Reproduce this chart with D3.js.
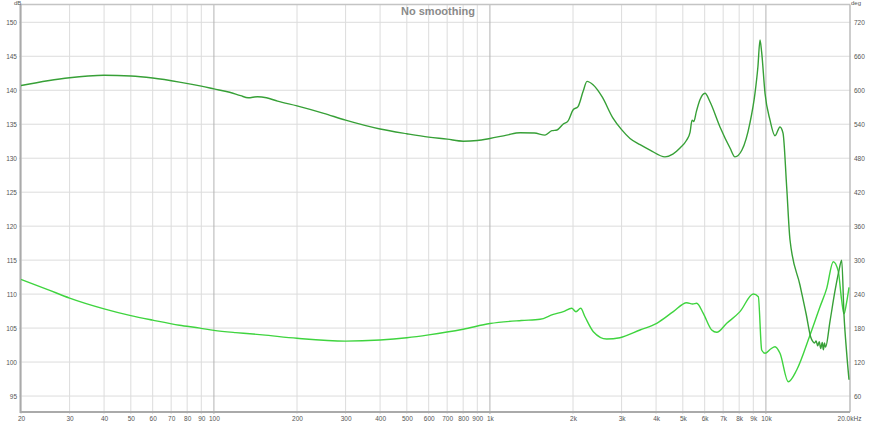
<!DOCTYPE html>
<html><head><meta charset="utf-8">
<script src="https://cdn.jsdelivr.net/npm/d3@7"></script>
<style>
html,body{margin:0;padding:0;background:#fff;}
svg{display:block;}
</style></head>
<body>
<svg id="chart" width="877" height="423"></svg>
<script>
// ---- data ----
const title = "No smoothing";
const xTickValues = [20,30,40,50,60,70,80,90,100,200,300,400,500,600,700,800,900,1000,2000,3000,4000,5000,6000,7000,8000,9000,10000,20000];
const xTickLabels = ["20","30","40","50","60","70","80","90","100","200","300","400","500","600","700","800","900","1k","2k","3k","4k","5k","6k","7k","8k","9k","10k","20.0kHz"];
const yLeftTicks = [95,100,105,110,115,120,125,130,135,140,145,150];
const yRightTicks = [60,120,180,240,300,360,420,480,540,600,660,720];

const splFreq = [20,25,30,35,40,50,60,75,90,100,114,125,133,144,155,170,200,250,300,400,500,600,700,800,900,1000,1150,1286,1450,1584,1678,1750,1840,1920,2000,2086,2175,2248,2364,2548,2792,3000,3218,3500,3802,4308,4600,4884,5150,5310,5400,5480,5600,5768,6016,6270,6818,7412,7727,8188,8754,9128,9356,9518,9650,9926,10348,10788,11246,11534,11890,12224,13290,14000,14527,14800,15000,15200,15400,15600,15800,16000,16150,16300,16450,17068,17800,18400,18818,19186,19600,20000];
const splDb   = [140.7,141.4,141.85,142.1,142.2,142.1,141.8,141.2,140.6,140.2,139.7,139.2,138.9,139.05,138.9,138.4,137.7,136.6,135.6,134.3,133.6,133.1,132.8,132.5,132.6,132.9,133.4,133.75,133.7,133.4,134.05,134.15,135.0,135.5,137.1,137.6,139.8,141.3,140.8,139.05,135.9,134.2,132.9,132.0,131.2,130.2,130.6,131.5,132.6,133.8,135.6,135.4,136.9,138.6,139.55,138.3,134.6,131.5,130.2,131.2,135.2,139.55,143.5,147.4,145.6,139.55,135.6,133.3,134.6,133.7,125.8,118.0,111.3,107.0,103.7,103.0,102.8,103.1,102.4,103.0,102.0,102.9,101.8,102.8,102.2,106.0,110.5,113.5,115.0,106.9,101.5,97.4];

const phaseFreq = [20,25,30,40,50,60,75,89,100,120,135,150,200,300,400,500,600,800,1000,1300,1519,1697,1845,1979,2050,2132,2210,2370,2649,2958,3498,4022,4618,5164,5431,5614,5930,6362,6634,7212,8054,9002,9386,9654,9926,10400,10788,11246,12052,12928,14448,15704,16608,17540,18292,18800,19186,19600,20000];
const phaseDeg  = [266,248,233,214,202,194,185,180,176,172,170,168,162,157,159,163,168,178,188,193.4,195.5,204.3,208.9,214.9,208.9,214.9,200,173.6,160.7,163,176.6,188.5,209,224.8,222.5,223.8,206,176.6,172.5,188.5,209,240.2,235.4,141.3,135.5,143,147.1,135.5,85.3,106,167.8,217.7,250.2,297.2,280,230,205,225,252];

// ---- chart ----
const svg = d3.select("#chart");
const L = 21, R = 849, T = 4.5, B = 412;
const x = d3.scaleLog().domain([20, 20000]).range([L, R]);
const yL = d3.scaleLinear().domain([92.65, 152.62]).range([B, T]);
const yR = d3.scaleLinear().domain([31.8, 751.4]).range([B, T]);

const font = "Liberation Sans, Arial, sans-serif";

// horizontal grid
svg.append("g").selectAll("line").data(yLeftTicks).join("line")
  .attr("x1", L - 2).attr("x2", R + 2)
  .attr("y1", d => yL(d)).attr("y2", d => yL(d))
  .attr("stroke", "#dcdcdc").attr("stroke-width", 1);

// vertical grid
const gridX = xTickValues.filter(v => v < 20000);
svg.append("g").selectAll("line").data(gridX).join("line")
  .attr("x1", d => x(d)).attr("x2", d => x(d))
  .attr("y1", T).attr("y2", B + 2)
  .attr("stroke", d => (d === 100 || d === 1000 || d === 10000) ? "#b4b4b4" : "#dcdcdc")
  .attr("stroke-width", 1);

// frame
svg.append("line").attr("x1", L).attr("x2", R + 1).attr("y1", T).attr("y2", T)
  .attr("stroke", "#c4c4c4").attr("stroke-width", 1.5);
svg.append("line").attr("x1", R + 1).attr("x2", R + 1).attr("y1", T).attr("y2", B)
  .attr("stroke", "#bcbcbc").attr("stroke-width", 1.5);
svg.append("line").attr("x1", L - 0.5).attr("x2", L - 0.5).attr("y1", T).attr("y2", B + 1)
  .attr("stroke", "#aaaaaa").attr("stroke-width", 2);
svg.append("line").attr("x1", L - 1).attr("x2", R + 1).attr("y1", B).attr("y2", B)
  .attr("stroke", "#aaaaaa").attr("stroke-width", 2);

// axes labels
const xAxis = d3.axisBottom(x).tickValues(xTickValues)
  .tickFormat((d, i) => xTickLabels[i]).tickSize(0).tickPadding(4);
const gx = svg.append("g").attr("transform", `translate(0,${B})`).call(xAxis);
gx.select(".domain").remove();
gx.selectAll("text").attr("font-family", font).attr("font-size", 6.5).attr("fill", "#555");

const gyl = svg.append("g").attr("transform", `translate(${L},0)`)
  .call(d3.axisLeft(yL).tickValues(yLeftTicks).tickSize(0).tickPadding(4));
gyl.select(".domain").remove();
gyl.selectAll("text").attr("font-family", font).attr("font-size", 6.5).attr("fill", "#555");

const gyr = svg.append("g").attr("transform", `translate(${R + 1},0)`)
  .call(d3.axisRight(yR).tickValues(yRightTicks).tickSize(0).tickPadding(4));
gyr.select(".domain").remove();
gyr.selectAll("text").attr("font-family", font).attr("font-size", 6.5).attr("fill", "#555");

svg.append("text").attr("x", 14).attr("y", 5).text("dB")
  .attr("font-family", font).attr("font-size", 6).attr("fill", "#555");
svg.append("text").attr("x", 851).attr("y", 5).text("deg")
  .attr("font-family", font).attr("font-size", 6).attr("fill", "#555");

svg.append("text").attr("x", 438).attr("y", 15).attr("text-anchor", "middle")
  .text(title).attr("font-family", font).attr("font-size", 11).attr("font-weight", "bold")
  .attr("fill", "#8a8a8a");

// curves
const splData = splFreq.map((f, i) => [f, splDb[i]]);
const phData = phaseFreq.map((f, i) => [f, phaseDeg[i]]);

svg.append("clipPath").attr("id", "clip").append("rect")
  .attr("x", L).attr("y", T).attr("width", R - L + 1).attr("height", B - T);

svg.append("path").datum(phData)
  .attr("clip-path", "url(#clip)")
  .attr("fill", "none").attr("stroke", "#3fd43f").attr("stroke-width", 1.4)
  .attr("d", d3.line().x(d => x(d[0])).y(d => yR(d[1])).curve(d3.curveMonotoneX));

svg.append("path").datum(splData)
  .attr("clip-path", "url(#clip)")
  .attr("fill", "none").attr("stroke", "#37a037").attr("stroke-width", 1.4)
  .attr("d", d3.line().x(d => x(d[0])).y(d => yL(d[1])).curve(d3.curveMonotoneX));
</script>
</body></html>
